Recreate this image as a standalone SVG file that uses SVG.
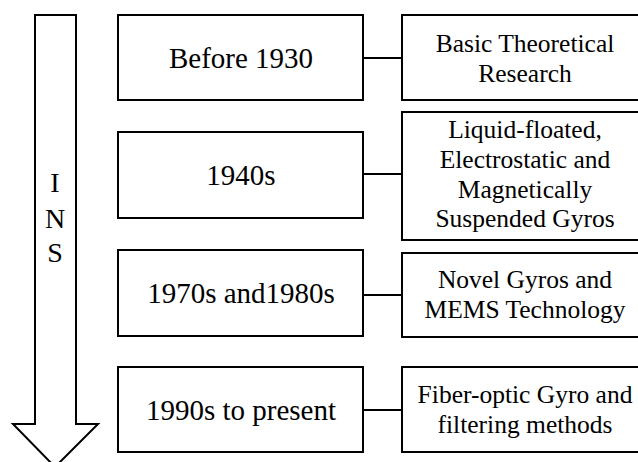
<svg xmlns="http://www.w3.org/2000/svg" width="638" height="462" viewBox="0 0 638 462">
  <style>
    .box { fill: #ffffff; stroke: #000000; stroke-width: 2; }
    .link { stroke: #000000; stroke-width: 2; fill: none; }
    text { font-family: "Liberation Serif", "Times New Roman", serif; fill: #000000; text-anchor: middle; }
    .era { font-size: 29px; }
    .desc { font-size: 25.5px; }
    .mark { font-size: 28px; }
  </style>
  <rect width="638" height="462" fill="#ffffff"/>

  <!-- timeline arrow -->
  <g id="ins-arrow">
    <path class="box" d="M35,15 L76,15 L76,424 L98,424 L55,467 L13,424 L35,424 Z"/>
    <text class="mark" x="55" y="192">I</text>
    <text class="mark" x="55" y="228">N</text>
    <text class="mark" x="55" y="262">S</text>
  </g>

  <!-- connectors -->
  <g id="connectors">
    <line class="link" x1="363" y1="58" x2="402" y2="58"/>
    <line class="link" x1="363" y1="174" x2="402" y2="174"/>
    <line class="link" x1="363" y1="295" x2="402" y2="295"/>
    <line class="link" x1="363" y1="410" x2="402" y2="410"/>
  </g>

  <!-- periods -->
  <g id="era-1930">
    <rect class="box" x="118" y="15" width="245" height="85"/>
    <text class="era" x="241" y="68">Before 1930</text>
  </g>
  <g id="era-1940">
    <rect class="box" x="118" y="132" width="245" height="86"/>
    <text class="era" x="241" y="185">1940s</text>
  </g>
  <g id="era-1970">
    <rect class="box" x="118" y="250" width="245" height="86"/>
    <text class="era" x="241" y="303">1970s and1980s</text>
  </g>
  <g id="era-1990">
    <rect class="box" x="118" y="367" width="245" height="85"/>
    <text class="era" x="241" y="420">1990s to present</text>
  </g>

  <!-- developments -->
  <g id="dev-basic">
    <rect class="box" x="402" y="15" width="246" height="85"/>
    <text class="desc" x="525" y="52">Basic Theoretical</text>
    <text class="desc" x="525" y="82">Research</text>
  </g>
  <g id="dev-gyros">
    <rect class="box" x="402" y="112" width="246" height="128"/>
    <text class="desc" x="525" y="138">Liquid-floated,</text>
    <text class="desc" x="525" y="168">Electrostatic and</text>
    <text class="desc" x="525" y="198">Magnetically</text>
    <text class="desc" x="525" y="227">Suspended Gyros</text>
  </g>
  <g id="dev-mems">
    <rect class="box" x="402" y="253" width="246" height="84"/>
    <text class="desc" x="525" y="288">Novel Gyros and</text>
    <text class="desc" x="525" y="318">MEMS Technology</text>
  </g>
  <g id="dev-fiber">
    <rect class="box" x="402" y="367" width="246" height="85"/>
    <text class="desc" x="525" y="403">Fiber-optic Gyro and</text>
    <text class="desc" x="525" y="433">filtering methods</text>
  </g>
</svg>
